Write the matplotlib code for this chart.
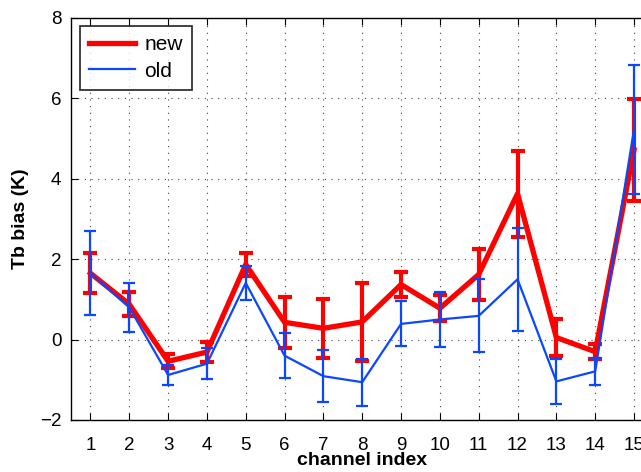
import numpy as np
import matplotlib.pyplot as plt
from matplotlib.lines import Line2D

plt.rcParams['font.family'] = ['Liberation Sans', 'DejaVu Sans']

# Tb bias per channel, with error bar half-widths
channels = np.arange(1, 16)
bias_new = [1.65, 0.88, -0.54, -0.31, 1.87, 0.43, 0.28, 0.44, 1.37, 0.78, 1.62, 3.63, 0.05, -0.30, 4.72]
err_new = [0.50, 0.30, 0.17, 0.25, 0.29, 0.64, 0.74, 0.98, 0.30, 0.33, 0.63, 1.07, 0.47, 0.19, 1.27]
bias_old = [1.65, 0.80, -0.88, -0.60, 1.41, -0.40, -0.91, -1.06, 0.39, 0.50, 0.59, 1.50, -1.04, -0.79, 5.23]
err_old = [1.05, 0.60, 0.25, 0.39, 0.42, 0.56, 0.65, 0.58, 0.56, 0.68, 0.91, 1.28, 0.56, 0.34, 1.61]

fig = plt.figure(figsize=(6.41, 4.72), dpi=100)
ax = fig.add_axes([0.1108, 0.1102, 0.9086, 0.8517])

red = '#ff0000'
blue = '#0a47ff'

ax.errorbar(channels, bias_new, yerr=err_new, color=red, lw=3.8, elinewidth=3.0,
            capsize=5, capthick=3.0, zorder=3)
ax.errorbar(channels, bias_old, yerr=err_old, color=blue, lw=1.6, elinewidth=1.6,
            capsize=4.5, capthick=1.6, zorder=4)

ax.set_xlim(0.5, 15.5)
ax.set_ylim(-2, 8)
ax.set_xticks(channels)
ax.set_yticks(np.arange(-2, 9, 2))
ax.set_yticklabels(['\u22122', '0', '2', '4', '6', '8'])
ax.tick_params(direction='in', top=True, right=True, labelsize=13.5, length=5)
ax.tick_params(axis='x', pad=12)
ax.tick_params(axis='y', pad=7)
ax.grid(True, color='black', linestyle=(0, (1, 5)), linewidth=0.8, alpha=0.75)
for sp in ax.spines.values():
    sp.set_linewidth(1.0)

ax.set_xlabel('channel index', fontsize=14, fontweight='bold', labelpad=-1)
ax.set_ylabel('Tb bias (K)', fontsize=14, fontweight='bold', labelpad=8)

handles = [Line2D([], [], color=red, lw=3.8), Line2D([], [], color=blue, lw=1.6)]
leg = ax.legend(handles, ['new', 'old'], loc='upper left', fontsize=15, frameon=True,
                fancybox=False, edgecolor='black', handlelength=2.2, handletextpad=0.45,
                borderaxespad=0.0, borderpad=0.45, labelspacing=0.35,
                bbox_to_anchor=(0.015, 0.98))
leg.get_frame().set_linewidth(1.3)

fig.savefig('out.png', dpi=100)
